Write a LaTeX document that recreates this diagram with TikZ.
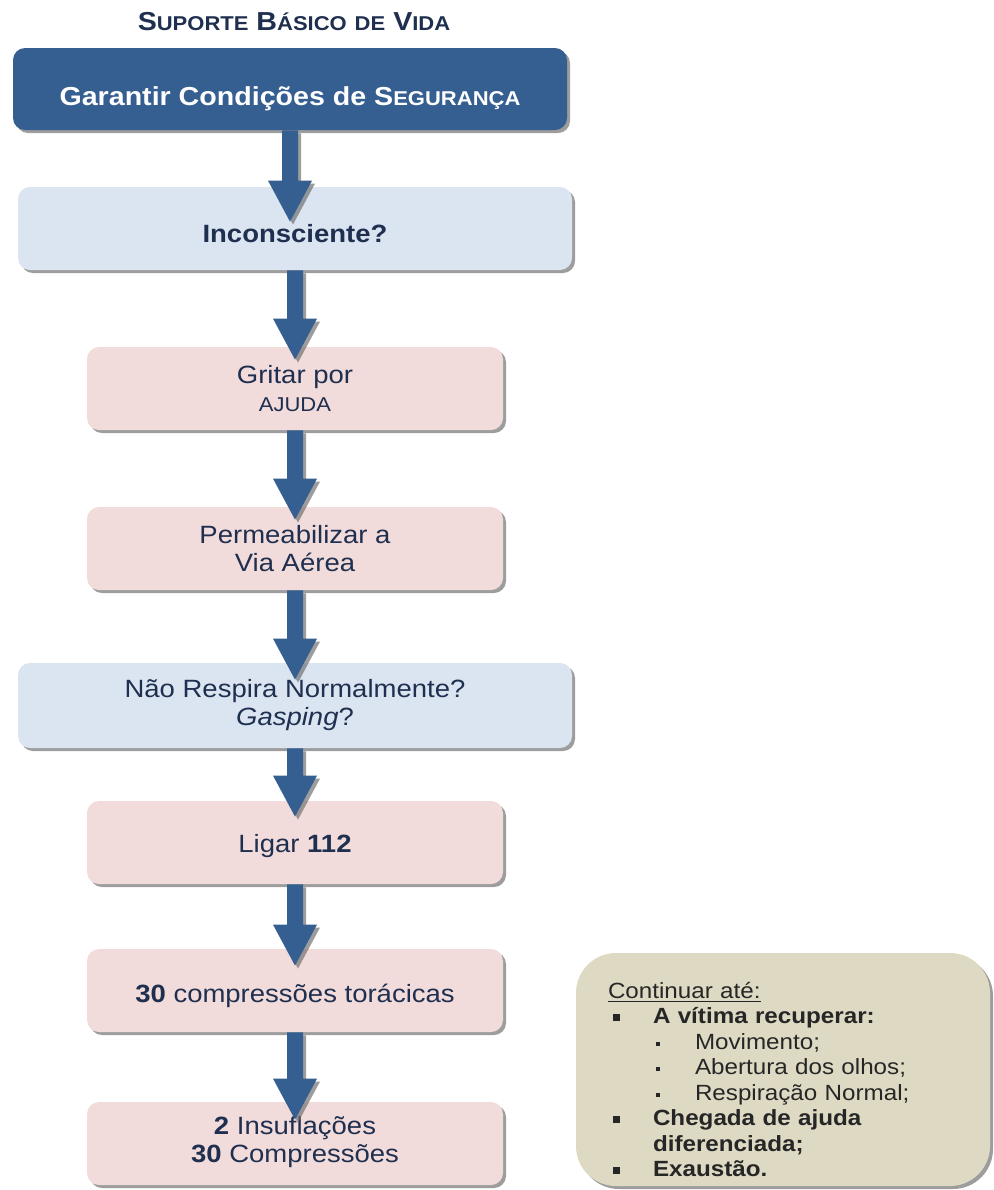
\documentclass[tikz,border=0pt]{standalone}
\usepackage{fontspec}
\setmainfont[FakeStretch=1.1]{Liberation Sans}
\usetikzlibrary{shadows,calc}
\definecolor{headblue}{HTML}{365F91}
\definecolor{paleblue}{HTML}{DBE5F1}
\definecolor{palepink}{HTML}{F2DCDB}
\definecolor{khaki}{HTML}{DDD9C3}
\definecolor{inkblue}{HTML}{1F2F4F}
\newcommand{\smc}[1]{{\fontsize{10}{12}\selectfont #1}}
\newcommand{\mainpt}[1]{\makebox[22.5pt][l]{\hspace{2.5pt}\rule[1.2pt]{3.6pt}{3.6pt}}\textbf{#1}}
\newcommand{\subpt}[1]{\makebox[43.5pt][l]{\hspace{24pt}\rule[1.8pt]{2pt}{2pt}}#1}
\newcommand{\flowarrow}[3]{%
	\fill[headblue,boxshadow] let \p1=(#1.south), \p2=(#2.north) in
		(\x1-4pt,\y1) -- (\x1+4pt,\y1) -- (\x1+4pt,\y2-#3+20.5pt) -- (\x1+11pt,\y2-#3+20.5pt)
		-- (\x1,\y2-#3) -- (\x1-11pt,\y2-#3+20.5pt) -- (\x1-4pt,\y2-#3+20.5pt) -- cycle;}
\begin{document}
\begin{tikzpicture}[x=0.5pt,y=-0.5pt,
		boxshadow/.style={drop shadow={shadow xshift=1.5pt,shadow yshift=-1.5pt,fill=black!55,opacity=.7}},
		stepbox/.style={rounded corners=6pt,boxshadow,minimum height=41.5pt,align=center,
			text=inkblue,font=\fontsize{12.5}{14}\selectfont,inner sep=2pt},
		widebox/.style={stepbox,minimum width=277pt,fill=paleblue},
		narrowbox/.style={stepbox,minimum width=208pt,fill=palepink},
		lowtext/.style={text height=#1,text depth=2.6pt},
		notebox/.style={rounded corners=20pt,boxshadow,fill=khaki,minimum width=207pt,minimum height=116.5pt,
			text width=175pt,inner xsep=16pt,align=left,text=black!85,font=\fontsize{11}{12.75}\selectfont}]
	\useasboundingbox (0,0) rectangle (994,1190);
	\node[text=inkblue,font=\fontsize{13}{15}\selectfont\bfseries] (title) at (294,22)
		{S\smc{UPORTE} B\smc{ÁSICO} \smc{DE} V\smc{IDA}};
	\node[widebox,fill=headblue,text=white,font=\fontsize{13}{15}\selectfont\bfseries,minimum height=41pt,lowtext=19pt] (safety) at (290,89)
		{Garantir Condições de S\smc{EGURANÇA}};
	\node[widebox,font=\fontsize{12.5}{14}\selectfont\bfseries,lowtext=17pt] (unconscious) at (295,228.5) {Inconsciente?};
	\node[narrowbox] (shout) at (295,388.5) {Gritar por\\{\fontsize{10}{14}\selectfont AJUDA}};
	\node[narrowbox] (airway) at (295,548.5) {Permeabilizar a\\Via Aérea};
	\node[widebox,minimum height=42.5pt] (breathing) at (295,705.5) {Não Respira Normalmente?\\\textit{Gasping}?};
	\node[narrowbox,lowtext=13pt] (call) at (295,842.5) {Ligar \textbf{112}};
	\node[narrowbox,lowtext=15pt] (compress) at (295,990.5) {\textbf{30} compressões torácicas};
	\node[narrowbox] (insufl) at (295,1143.5) {\textbf{2} Insuflações\\\textbf{30} Compressões\rule[-4pt]{0pt}{0pt}};
	\node[notebox] (until) at (783,1069.5) {%
		\rule{0pt}{18pt}\underline{Continuar até:}\\
		\mainpt{A vítima recuperar:}\\
		\subpt{Movimento;}\\
		\subpt{Abertura dos olhos;}\\
		\subpt{Respiração Normal;}\\
		\mainpt{Chegada de ajuda}\\
		\hspace*{22.5pt}\textbf{diferenciada;}\\
		\mainpt{Exaustão.}};
	\flowarrow{safety}{unconscious}{17.5pt}
	\flowarrow{unconscious}{shout}{6.5pt}
	\flowarrow{shout}{airway}{6.5pt}
	\flowarrow{airway}{breathing}{8.5pt}
	\flowarrow{breathing}{call}{8pt}
	\flowarrow{call}{compress}{8.5pt}
	\flowarrow{compress}{insufl}{9pt}
\end{tikzpicture}
\end{document}
